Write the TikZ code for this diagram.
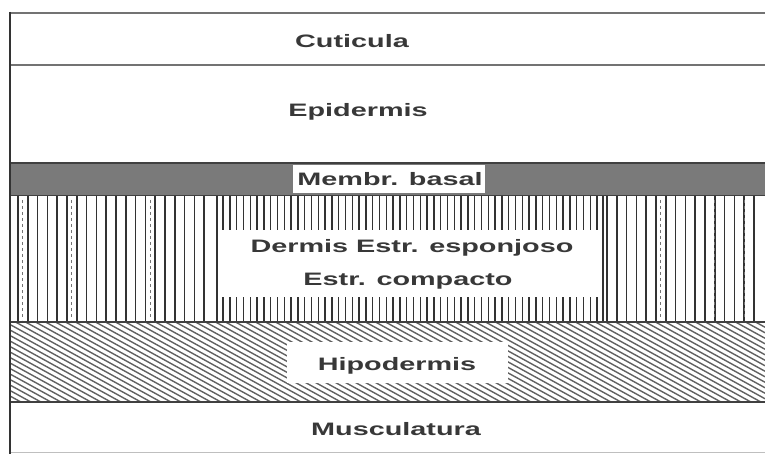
\documentclass[tikz,border=0pt]{standalone}
\usepackage{fontspec}
\usepackage{graphicx}
\setmainfont{Liberation Sans}
\newcommand\lbl[1]{\scalebox{1.6}[1]{#1}}
\tikzset{
  lab/.style={anchor=base, inner sep=0pt, text=black!78, font=\fontsize{18}{20}\selectfont\bfseries},
  rule/.style={draw=black!75, line width=1.8pt},
  lightrule/.style={draw=black!55, line width=1.8pt},
  vline/.style={draw=black!80, line width=1.7pt},
  fineline/.style={draw=black!80, line width=1.4pt},
  hatch/.style={draw=black!62, line width=1.4pt},
}
\begin{document}
\begin{tikzpicture}[x=1pt,y=-1pt]
\useasboundingbox (0,0) rectangle (765,454);
\fill[white] (0,0) rectangle (765,454);
% membrana basal
\fill[black!52] (10,163) rectangle (765,195);
\fill[white] (293,165) rectangle (485,193);
% dermis side lines
\foreach \x in {18,27.8,...,212} \draw[vline] (\x,196) -- (\x,322);
\foreach \x in {607,616.8,...,763} \draw[vline] (\x,196) -- (\x,322);
\foreach \x in {22.9,71.9,150.3} \draw[black!55, line width=1pt, dash pattern=on 3pt off 3pt] (\x,200) -- (\x,320);
\foreach \x in {660,714,744} \draw[black!55, line width=1pt, dash pattern=on 3pt off 3pt] (\x,200) -- (\x,320);
\draw[vline] (217,196) -- (217,322);
\draw[vline] (603,196) -- (603,322);
% dermis central short lines
\foreach \x in {223,229.8,...,600} {
  \draw[fineline] (\x,196) -- (\x,230);
  \draw[fineline] (\x,297) -- (\x,321);
}
% hipodermis hatch
\begin{scope}
\clip (10,322) rectangle (765,402);
\foreach \k in {0,...,92} \draw[hatch] (0,-99+\k*5.5) -- (765,-99+\k*5.5+420.75);
\end{scope}
\fill[white] (287,342) rectangle (508,383);
% rules
\draw[lightrule] (10,13) -- (765,13);
\draw[lightrule] (10,65) -- (765,65);
\draw[rule] (10,163) -- (765,163);
\draw[rule] (10,195.5) -- (765,195.5);
\draw[rule] (10,322) -- (765,322);
\draw[rule] (10,402) -- (765,402);
\draw[black!25, line width=1pt] (10,452.5) -- (765,452.5);
\draw[black!80, line width=2pt] (10,12) -- (10,454);
% labels
\node[lab] (cut) at (352,48) {\lbl{Cuticula}};
\node[lab] (epi) at (358,117) {\lbl{Epidermis}};
\node[lab] (mem) at (390,186) {\lbl{Membr. basal}};
\node[lab] (der) at (412,252) {\lbl{Dermis Estr. esponjoso}};
\node[lab] (com) at (408,285) {\lbl{Estr. compacto}};
\node[lab] (hip) at (397,370) {\lbl{Hipodermis}};
\node[lab] (mus) at (396,435) {\lbl{Musculatura}};
\end{tikzpicture}
\end{document}
